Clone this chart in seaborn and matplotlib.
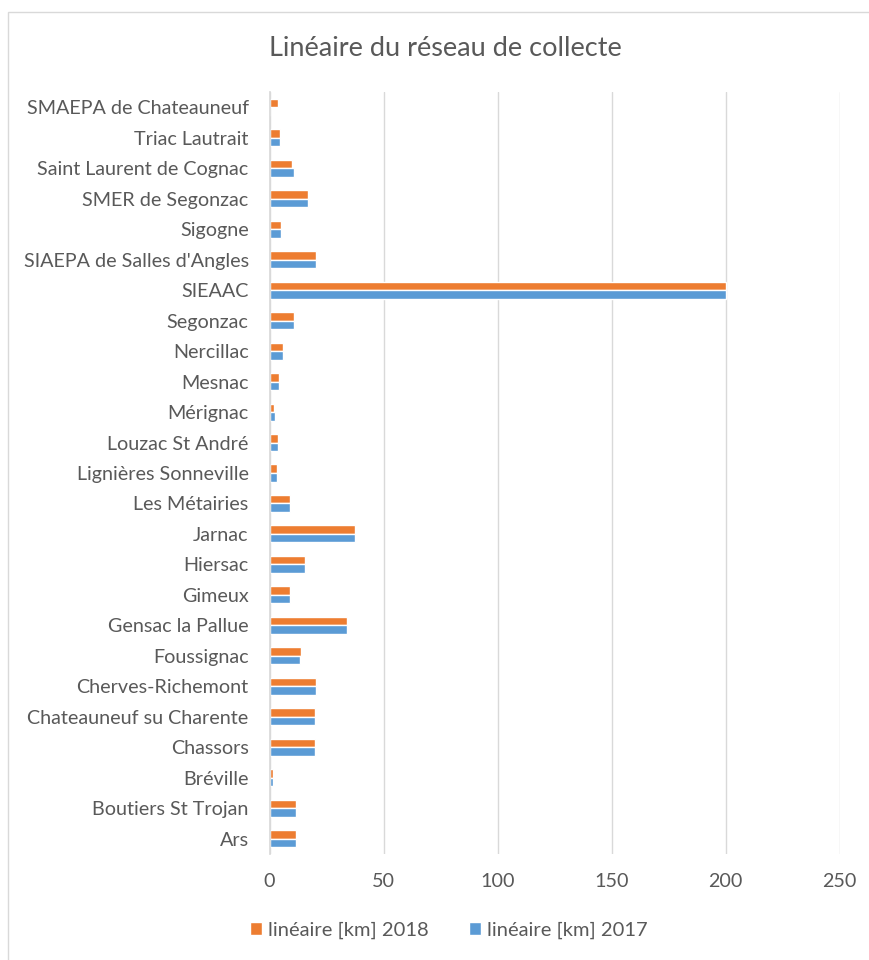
import pandas as pd
import seaborn as sns
import matplotlib.pyplot as plt
from matplotlib.patches import Rectangle

#%% data, top to bottom
communes = ["SMAEPA de Chateauneuf", "Triac Lautrait", "Saint Laurent de Cognac",
            "SMER de Segonzac", "Sigogne", "SIAEPA de Salles d'Angles", "SIEAAC",
            "Segonzac", "Nercillac", "Mesnac", "Mérignac", "Louzac St André",
            "Lignières Sonneville", "Les Métairies", "Jarnac", "Hiersac", "Gimeux",
            "Gensac la Pallue", "Foussignac", "Cherves-Richemont",
            "Chateauneuf su Charente", "Chassors", "Bréville",
            "Boutiers St Trojan", "Ars"]
km_2018 = [3.6, 4.7, 9.8, 17.0, 5.1, 20.5, 200, 10.8, 6.1, 4.1, 2.0, 3.6,
           3.5, 8.8, 37.4, 15.4, 8.8, 33.8, 13.7, 20.5, 19.9, 19.9, 1.5,
           11.7, 11.7]
km_2017 = [0, 4.7, 10.8, 17.0, 5.1, 20.5, 200, 10.8, 6.1, 4.1, 2.6, 3.6,
           3.5, 8.8, 37.4, 15.4, 8.8, 33.8, 13.3, 20.5, 19.9, 19.9, 1.5,
           11.7, 11.7]
series = ["linéaire [km] 2018", "linéaire [km] 2017"]

df = pd.DataFrame({"commune": communes, series[0]: km_2018, series[1]: km_2017})
dfm = df.melt("commune", var_name="serie", value_name="km")

#%% figure
sns.set_theme(style="white")
plt.rcParams['font.family'] = ['Lato', 'DejaVu Sans']
grey = "#595959"

fig = plt.figure(figsize=(8.69, 9.6), dpi=100)
ax = fig.add_axes([269.5 / 869, 1 - 854 / 960, 570 / 869, (854 - 92) / 960])

sns.barplot(data=dfm, y="commune", x="km", hue="serie", order=communes,
            hue_order=series, palette=["#ED7D31", "#5B9BD5"], orient="h",
            width=0.56, saturation=1, ax=ax, legend=True)

ax.set_xlim(0, 250)
ax.set_xticks(range(0, 251, 50))
ax.set_xlabel("")
ax.set_ylabel("")
ax.grid(axis="x", color="#D9D9D9", linewidth=1)
ax.set_axisbelow(True)
for s in ["top", "right", "bottom"]:
    ax.spines[s].set_visible(False)
ax.spines["left"].set_color("#D9D9D9")
ax.tick_params(axis="both", length=0, labelsize=14.2, labelcolor=grey)
ax.tick_params(axis="y", pad=15)
ax.tick_params(axis="x", pad=14)

fig.text(445 / 869, 1 - 48 / 960, "Linéaire du réseau de collecte",
         ha="center", va="center", fontsize=19.5, color=grey)

handles, labels = ax.get_legend_handles_labels()
ax.get_legend().remove()
fig.legend(handles, labels, loc="center", bbox_to_anchor=(449 / 869, 1 - 930 / 960),
           ncol=2, frameon=False, fontsize=14.5, labelcolor=grey,
           handlelength=0.6, handleheight=0.6, handletextpad=0.3, columnspacing=2.0)

# chart frame (clipped on right/bottom as in the screenshot)
fig.patches.append(Rectangle((8 / 869, -0.1), 1.2, 1.1 - 12 / 960,
                             transform=fig.transFigure, fill=False,
                             edgecolor="#D9D9D9", linewidth=1))

plt.savefig("out.png", dpi=100)
plt.close()
